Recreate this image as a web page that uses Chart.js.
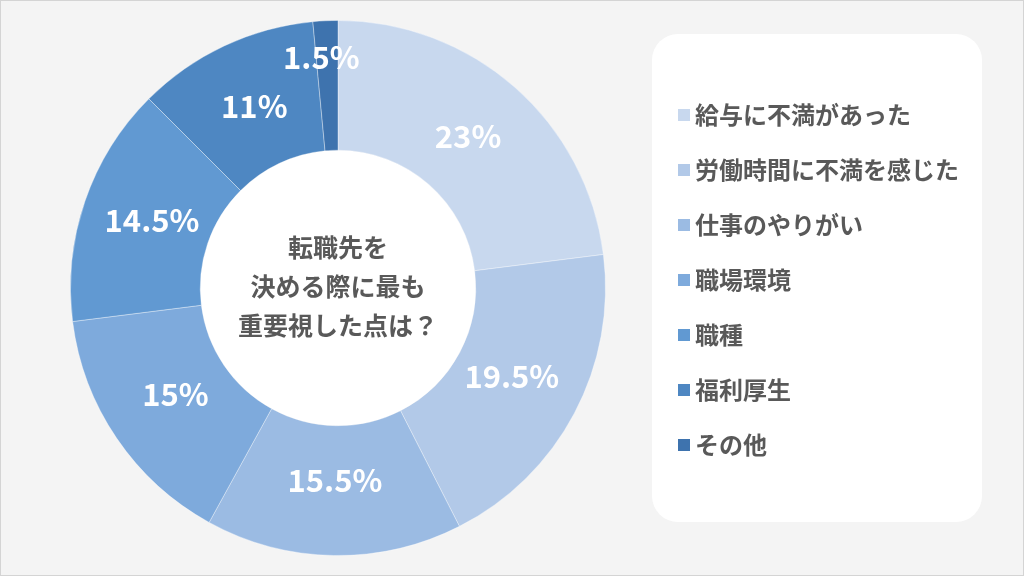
<!DOCTYPE html>
<html>
<head>
<meta charset="utf-8">
<script src="https://cdn.jsdelivr.net/npm/chart.js@4"></script>
<style>
  html, body { margin: 0; padding: 0; background: #f4f4f4; }
  #wrap { position: relative; width: 1022px; height: 574px; border: 1px solid #d4d4d4; }
  canvas { display: block; }
</style>
</head>
<body>
<div id="wrap"><canvas id="myChart" width="1022" height="574"></canvas></div>
<script>
const categories = ['給与に不満があった', '労働時間に不満を感じた', '仕事のやりがい', '職場環境', '職種', '福利厚生', 'その他'];
const shares = [23, 19.5, 15.5, 15, 14.5, 11, 1.5];
const sliceColors = ['#c8d8ee', '#b2c9e8', '#9bbbe3', '#7eaadc', '#6199d2', '#4e87c2', '#3e73ae'];
const centerLines = ['転職先を', '決める際に最も', '重要視した点は？'];

const FONT = '"Noto Sans CJK JP", "Noto Sans", sans-serif';
const ctxEl = document.getElementById('myChart');

// background, legend panel and white hole
const backdrop = {
    id: 'backdrop',
    beforeDraw(chart) {
        const c = chart.ctx;
        c.save();
        c.fillStyle = '#f4f4f4';
        c.fillRect(0, 0, chart.width, chart.height);
        c.fillStyle = '#ffffff';
        c.beginPath();
        c.roundRect(651, 33, 330, 488, 26);
        c.fill();
        c.restore();
    },
    beforeDatasetsDraw(chart) {
        const arc = chart.getDatasetMeta(0).data[0];
        if (!arc) return;
        const c = chart.ctx;
        c.save();
        c.fillStyle = '#ffffff';
        c.beginPath();
        c.arc(arc.x, arc.y, arc.innerRadius, 0, Math.PI * 2);
        c.fill();
        c.restore();
    }
};

// percentage labels, center text and legend
const labelsPlugin = {
    id: 'labelsPlugin',
    afterDatasetsDraw(chart) {
        const c = chart.ctx;
        const meta = chart.getDatasetMeta(0);
        c.save();
        c.textAlign = 'center';
        c.textBaseline = 'middle';
        c.fillStyle = '#ffffff';
        c.font = 'bold 31px ' + FONT;
        meta.data.forEach((arc, i) => {
            const mid = (arc.startAngle + arc.endAngle) / 2;
            let r = (arc.innerRadius + arc.outerRadius) / 2 - 6;
            if (shares[i] < 3) r = arc.outerRadius - 40;
            let x = arc.x + Math.cos(mid) * r;
            const y = arc.y + Math.sin(mid) * r - 4;
            if (shares[i] < 3) x -= 6;
            c.fillText(shares[i] + '%', x, y);
        });

        const a0 = meta.data[0];
        c.fillStyle = '#595959';
        c.font = 'bold 25px ' + FONT;
        centerLines.forEach((line, i) => {
            c.fillText(line, a0.x, a0.y - 2 + (i - 1) * 39);
        });

        c.textAlign = 'left';
        c.font = 'bold 24px ' + FONT;
        categories.forEach((name, i) => {
            const y = 114 + i * 55;
            c.fillStyle = sliceColors[i];
            c.fillRect(677, y - 6, 12, 12);
            c.fillStyle = '#595959';
            c.fillText(name, 694, y);
        });
        c.restore();
    }
};

new Chart(ctxEl, {
    type: 'doughnut',
    data: {
        labels: categories,
        datasets: [{
            data: shares,
            backgroundColor: sliceColors,
            borderColor: 'rgba(255,255,255,0.35)',
            borderWidth: 1
        }]
    },
    options: {
        responsive: false,
        animation: false,
        cutout: '51.5%',
        layout: { padding: { left: 69, right: 417, top: 19, bottom: 19 } },
        plugins: {
            legend: { display: false },
            tooltip: { enabled: false }
        }
    },
    plugins: [backdrop, labelsPlugin]
});
</script>
</body>
</html>
